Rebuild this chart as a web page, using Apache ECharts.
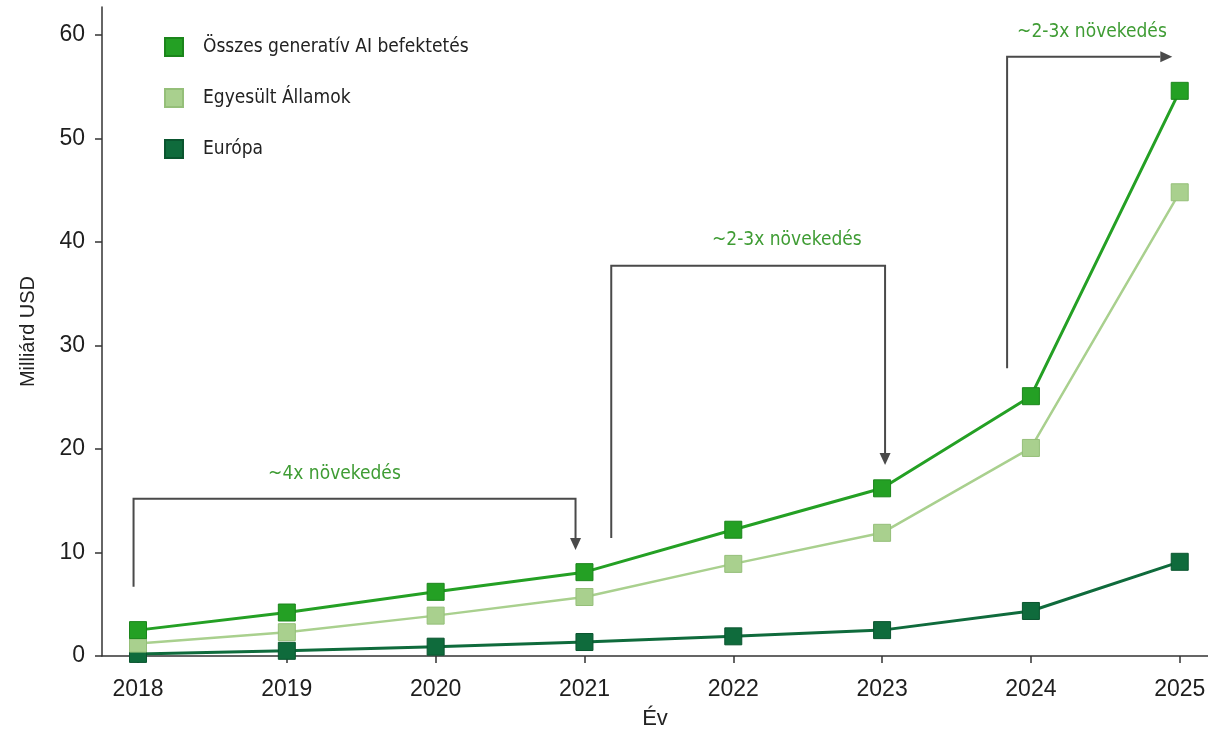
<!DOCTYPE html>
<html>
<head>
<meta charset="utf-8">
<script src="https://cdn.jsdelivr.net/npm/echarts@6/dist/echarts.min.js"></script>
<style>
  html, body { margin: 0; padding: 0; background: #ffffff; }
  #chart { width: 1208px; height: 729px; }
</style>
</head>
<body>
<div id="chart"></div>
<script>
// Generatív AI befektetések (milliárd USD), 2018–2025
const years = [2018, 2019, 2020, 2021, 2022, 2023, 2024, 2025];
const yTicks = [0, 10, 20, 30, 40, 50, 60];

const seriesNames = ['Összes generatív AI befektetés', 'Egyesült Államok', 'Európa'];
const total  = [2.5, 4.2, 6.2, 8.1, 12.2, 16.2, 25.1, 54.6];
const usa    = [1.2, 2.3, 3.9, 5.7, 8.9, 11.9, 20.1, 44.8];
const europe = [0.2, 0.5, 0.9, 1.35, 1.9, 2.5, 4.35, 9.1];

// Growth brackets: polyline in (year, value) units, arrowhead at the last point
const growthTexts = ['~4x növekedés', '~2-3x növekedés', '~2-3x növekedés'];
const growthPaths = [
  [[2017.97, 6.7], [2017.97, 15.2], [2020.94, 15.2], [2020.94, 10.25]],
  [[2021.18, 11.4], [2021.18, 37.7], [2023.02, 37.7], [2023.02, 18.45]],
  [[2023.84, 27.8], [2023.84, 57.9], [2024.95, 57.9]]
];
const growthTextAt = [[2019.32, 17.6], [2022.36, 40.2], [2024.41, 60.3]];

const colors = {
  total:  { fill: '#24a024', border: '#1b851b' },
  usa:    { fill: '#a9d08e', border: '#95bf79' },
  europe: { fill: '#0f6b3c', border: '#0a552f' }
};

const chart = echarts.init(document.getElementById('chart'), null, { renderer: 'canvas' });

function pairs(vals) {
  return years.map((y, i) => [y, vals[i]]);
}

function lineSeries(name, vals, c, width, z) {
  return {
    name: name,
    type: 'line',
    data: pairs(vals),
    symbol: 'rect',
    symbolSize: 17,
    z: z,
    lineStyle: { color: c.fill, width: width },
    itemStyle: { color: c.fill, borderColor: c.border, borderWidth: 1 },
    emphasis: { disabled: true }
  };
}

function renderBracket(params, api) {
  const idx = params.dataIndex;
  const pts = growthPaths[idx].map(p => api.coord(p));
  const tip = pts[pts.length - 1];
  const prev = pts[pts.length - 2];
  const dx = tip[0] - prev[0], dy = tip[1] - prev[1];
  const len = Math.sqrt(dx * dx + dy * dy);
  const ux = dx / len, uy = dy / len;
  const headLen = 12, headHalf = 5.5;
  const base = [tip[0] - ux * headLen, tip[1] - uy * headLen];
  const linePts = pts.slice(0, -1).concat([base]);
  const head = [
    tip,
    [base[0] - uy * headHalf, base[1] + ux * headHalf],
    [base[0] + uy * headHalf, base[1] - ux * headHalf]
  ];
  const lp = api.coord(growthTextAt[idx]);
  return {
    type: 'group',
    children: [
      { type: 'polyline', shape: { points: linePts },
        style: { stroke: '#4a4a4a', lineWidth: 2, fill: null } },
      { type: 'polygon', shape: { points: head },
        style: { fill: '#4a4a4a' } },
      { type: 'text', x: lp[0], y: lp[1],
        style: { text: growthTexts[idx], fill: '#3f9c34',
                 font: '19px "Liberation Sans Narrow", "DejaVu Sans Condensed", sans-serif',
                 align: 'center', verticalAlign: 'middle' } }
    ]
  };
}

chart.setOption({
  animation: false,
  backgroundColor: '#ffffff',
  grid: { left: 102, right: 0, top: 7, bottom: 73, outerBoundsMode: 'none', containLabel: false },
  legend: {
    orient: 'vertical',
    left: 164,
    top: 37,
    padding: 0,
    itemWidth: 18,
    itemHeight: 18,
    itemGap: 31,
    icon: 'rect',
    selectedMode: false,
    data: seriesNames,
    textStyle: {
      fontFamily: '"Liberation Sans Narrow", "DejaVu Sans Condensed", sans-serif',
      fontSize: 19,
      color: '#222',
      padding: [0, 0, 0, 15]
    }
  },
  xAxis: {
    type: 'value',
    min: 2017.758,
    max: 2025.19,
    name: 'Év',
    nameLocation: 'middle',
    nameGap: 52,
    nameTextStyle: { fontFamily: '"Liberation Sans Narrow", "Liberation Sans", sans-serif', fontSize: 22, color: '#222' },
    axisLine: { lineStyle: { color: '#333', width: 1.5 } },
    axisTick: { show: true, customValues: years, length: 7, lineStyle: { color: '#333', width: 1.5 } },
    axisLabel: {
      customValues: years,
      formatter: v => String(v),
      margin: 22,
      fontFamily: '"Liberation Sans", Arial, sans-serif',
      fontSize: 23,
      color: '#1e1e1e'
    },
    splitLine: { show: false }
  },
  yAxis: {
    type: 'value',
    min: 0,
    max: 62.7,
    name: 'Milliárd USD',
    nameLocation: 'middle',
    nameRotate: 90,
    nameGap: 64,
    nameTextStyle: { fontFamily: '"Liberation Sans", Arial, sans-serif', fontSize: 20, color: '#222' },
    axisLine: { show: true, lineStyle: { color: '#333', width: 1.5 } },
    axisTick: { show: true, customValues: yTicks, length: 7, lineStyle: { color: '#333', width: 1.5 } },
    axisLabel: {
      customValues: yTicks,
      margin: 17,
      fontFamily: '"Liberation Sans", Arial, sans-serif',
      fontSize: 23,
      color: '#1e1e1e'
    },
    splitLine: { show: false }
  },
  series: [
    lineSeries(seriesNames[2], europe, colors.europe, 3, 3),
    lineSeries(seriesNames[1], usa, colors.usa, 2.5, 4),
    lineSeries(seriesNames[0], total, colors.total, 3, 5),
    {
      type: 'custom',
      name: 'growth',
      data: growthTextAt,
      renderItem: renderBracket,
      silent: true,
      z: 2
    }
  ]
});
</script>
</body>
</html>
